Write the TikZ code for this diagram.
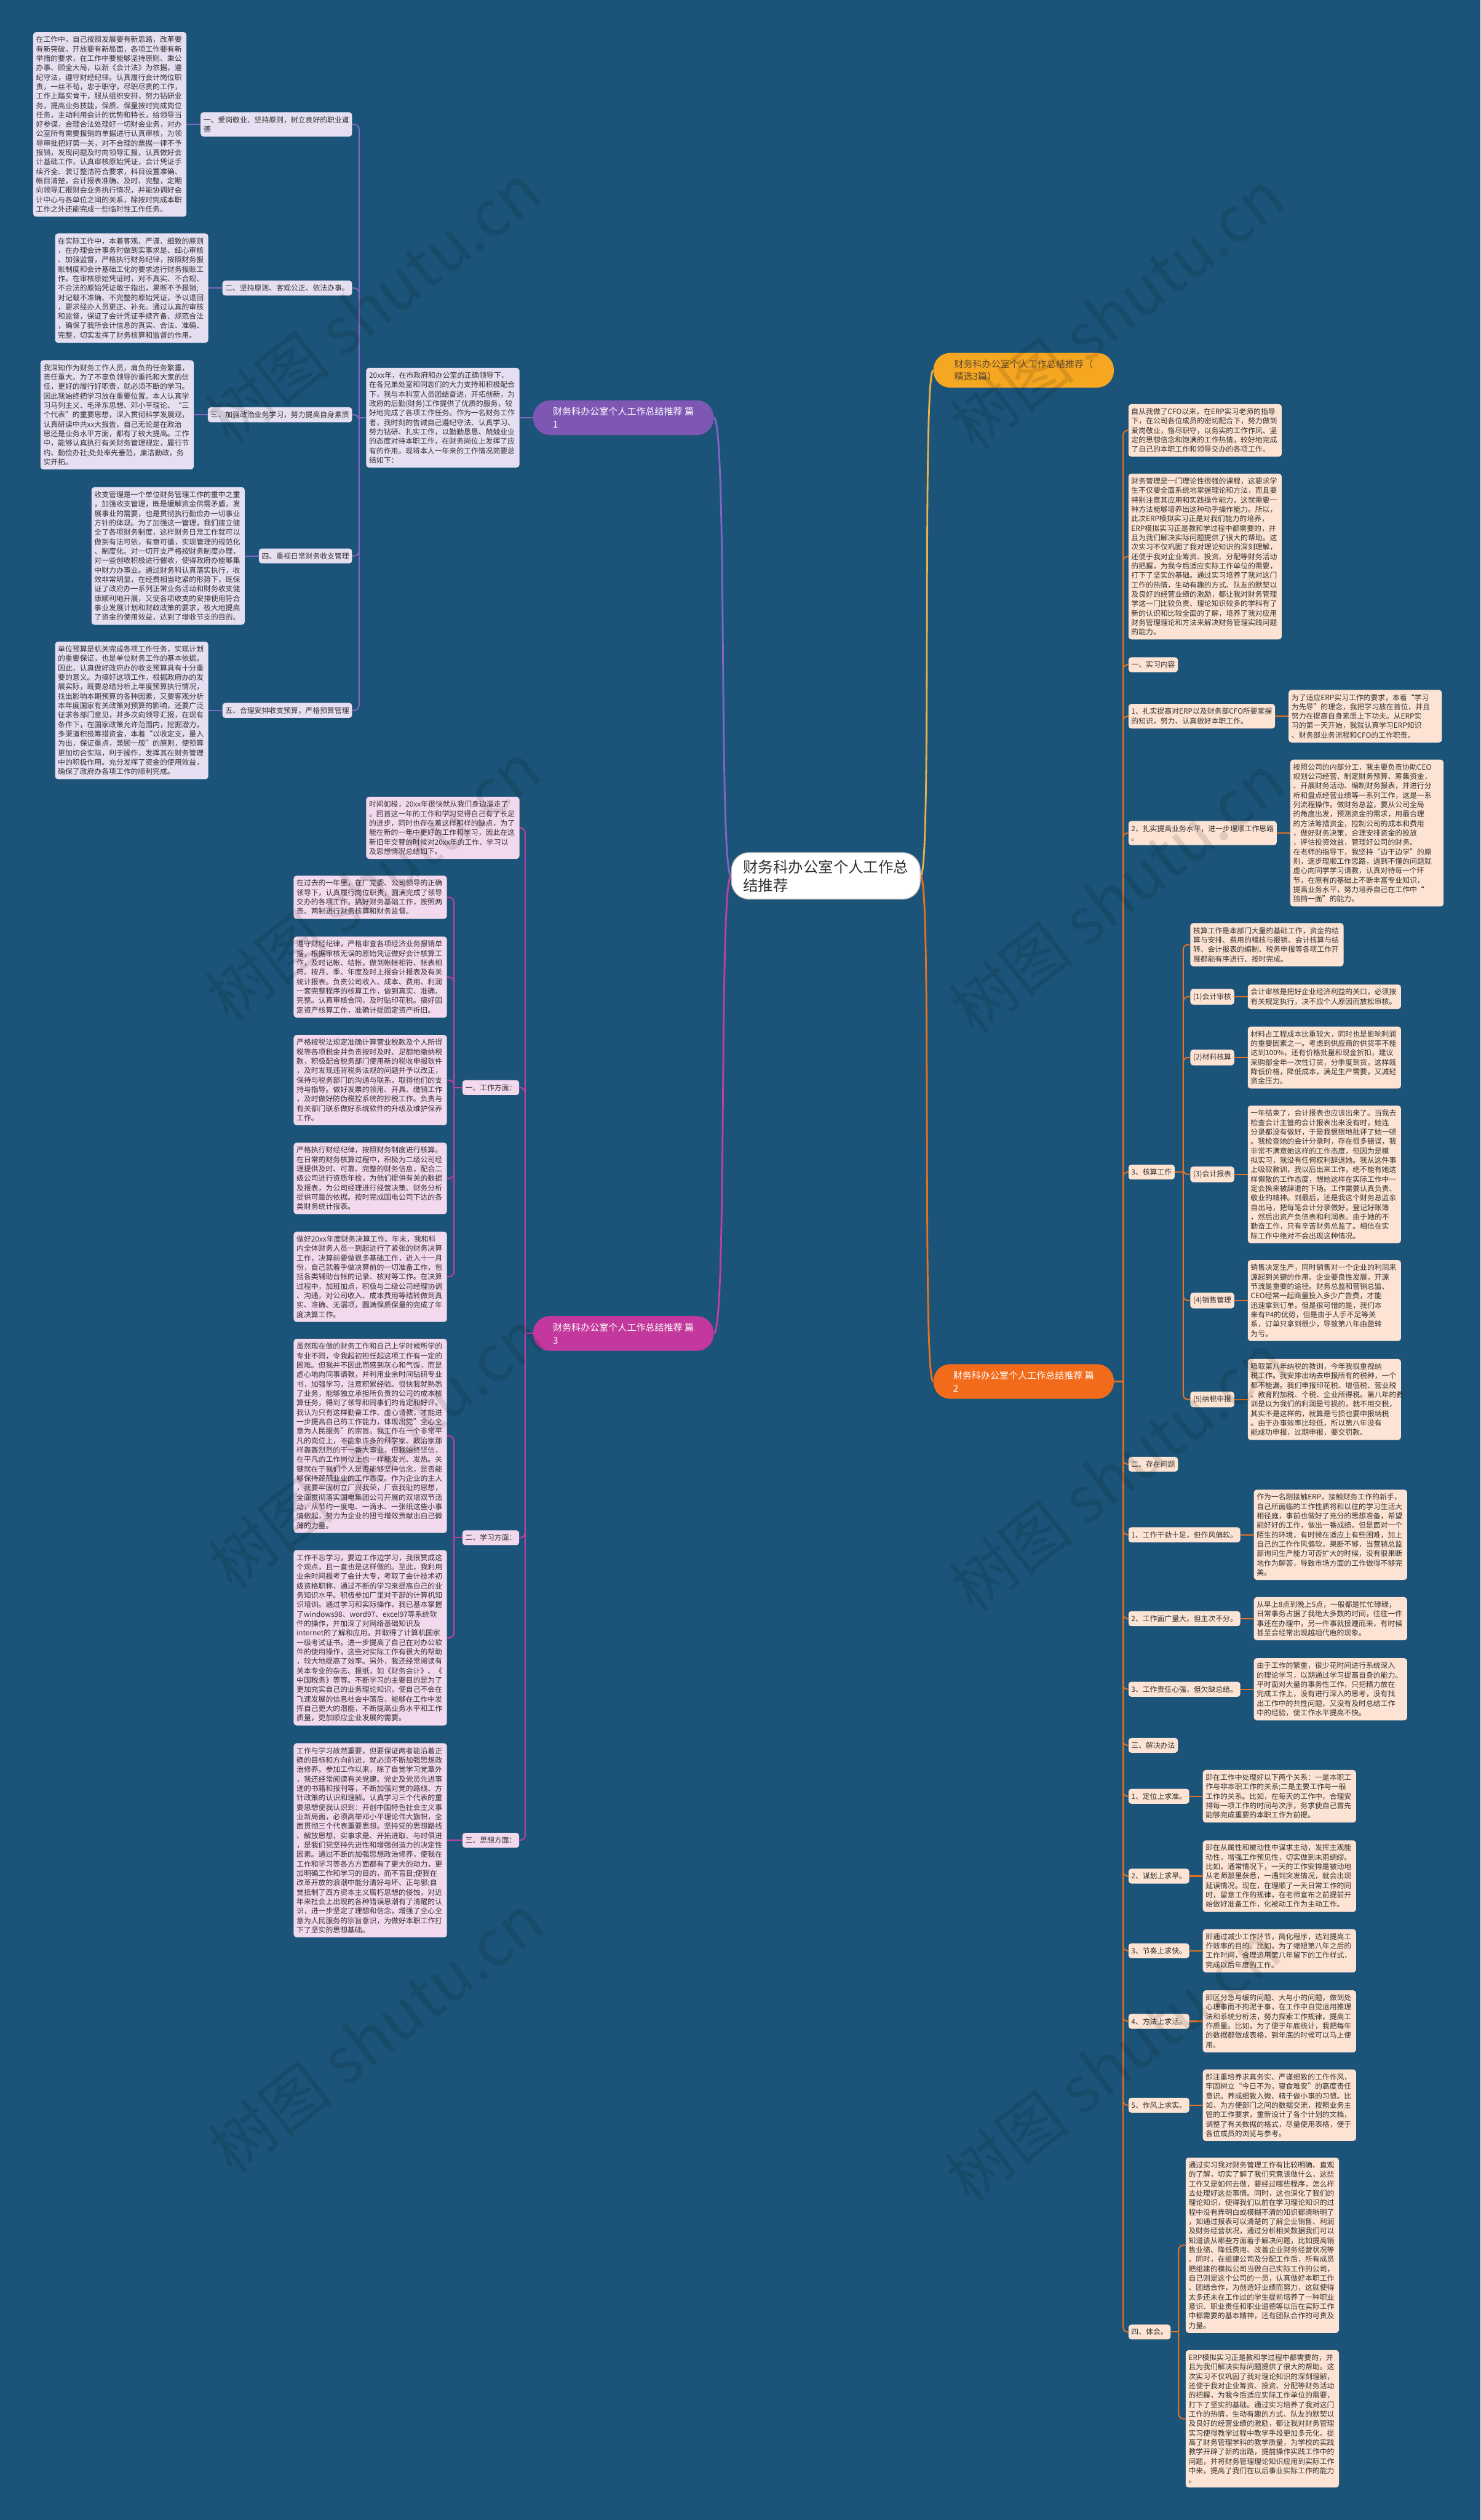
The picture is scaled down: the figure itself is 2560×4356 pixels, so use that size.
\documentclass[tikz,border=0pt]{standalone}
\usepackage{fontspec}
\setmainfont{Noto Sans CJK SC}
\usetikzlibrary{calc}
\pgfdeclarelayer{bglayer}
\pgfdeclarelayer{fglayer}
\pgfsetlayers{bglayer,main,fglayer}
\definecolor{bgc}{HTML}{1B5478}
\definecolor{txt}{HTML}{333333}
\definecolor{pfill}{HTML}{E5DFF1}
\definecolor{pline}{HTML}{8466C2}
\definecolor{pnode}{HTML}{7E57B5}
\definecolor{mfill}{HTML}{F3D9EE}
\definecolor{mline}{HTML}{C23EA3}
\definecolor{mnode}{HTML}{C2389C}
\definecolor{ofill}{HTML}{FDE3D3}
\definecolor{oline}{HTML}{E8701F}
\definecolor{onode}{HTML}{F26B1A}
\definecolor{gnode}{HTML}{F6A722}
\definecolor{gline}{HTML}{E9B04C}
\definecolor{gtext}{HTML}{5C4A32}
\definecolor{cborder}{HTML}{C8C8C8}
\newcommand{\myboxfont}{\fontsize{12.6}{16.3}\selectfont\hyphenpenalty=10000\exhyphenpenalty=10000}
\tikzset{
  base/.style={font=\myboxfont, text=txt, rounded corners=5pt, inner xsep=5pt, inner ysep=7pt, align=left},
  pbox/.style={base, fill=pfill, text width=255pt},
  plab/.style={base, fill=pfill},
  mbox/.style={base, fill=mfill, text width=255pt},
  mlab/.style={base, fill=mfill},
  obox/.style={base, fill=ofill, text width=255pt},
  olab/.style={base, fill=ofill},
  pill/.style={rounded corners=29pt, inner xsep=28pt, inner ysep=6pt, minimum width=312pt, minimum height=60pt, align=left, font=\fontsize{16}{22}\selectfont},
  pl/.style={draw=pline, line width=2.2pt, rounded corners=9pt},
  ml/.style={draw=mline, line width=2.2pt, rounded corners=9pt},
  ol/.style={draw=oline, line width=2.2pt, rounded corners=8pt},
  wmark/.style={rotate=38, opacity=0.11, text=black, font=\fontsize{110}{110}\selectfont}
}
\begin{document}
\begin{tikzpicture}[x=1pt,y=-1pt]
\useasboundingbox (0,0) rectangle (2560,4356);
\begin{pgfonlayer}{bglayer}
\fill[bgc] (0,0) rectangle (2560,4356);
\end{pgfonlayer}

% ---------- center and main branches ----------
\node[draw=cborder, line width=1.5pt, fill=white, rounded corners=30pt, inner xsep=20pt, inner ysep=12pt, align=left, text=txt, font=\fontsize{26}{32}\selectfont] (C) at (1428,1514) {财务科办公室个人工作总\\结推荐};
\node[pill, fill=gnode, text=gtext] (T) at (1770,640) {财务科办公室个人工作总结推荐（\\精选3篇）};
\node[pill, fill=pnode, text=white] (B1) at (1078,722) {财务科办公室个人工作总结推荐 篇\\1};
\node[pill, fill=mnode, text=white] (B3) at (1078,2305) {财务科办公室个人工作总结推荐 篇\\3};
\node[pill, fill=onode, text=white] (B2) at (1770,2388) {财务科办公室个人工作总结推荐 篇\\2};

% ---------- branch 1 ----------
\node[pbox, anchor=west] (I1) at (633,722) {20xx年，在市政府和办公室的正确领导下，\\在各兄弟处室和同志们的大力支持和积极配合\\下，我与本科室人员团结奋进，开拓创新，为\\政府的后勤(财务)工作提供了优质的服务，较\\好地完成了各项工作任务。作为一名财务工作\\者，我时刻的告诫自己遵纪守法、认真学习、\\努力钻研、扎实工作，以勤勤恳恳、兢兢业业\\的态度对待本职工作，在财务岗位上发挥了应\\有的作用。现将本人一年来的工作情况简要总\\结如下：};
\node[plab, anchor=east] (L1) at (609,215) {一、爱岗敬业、坚持原则，树立良好的职业道\\德};
\node[plab, anchor=east] (L2) at (609,498) {二、坚持原则、客观公正、依法办事。};
\node[plab, anchor=east] (L3) at (609,717) {三、加强政治业务学习，努力提高自身素质};
\node[plab, anchor=east] (L4) at (609,961) {四、重视日常财务收支管理};
\node[plab, anchor=east] (L5) at (609,1228) {五、合理安排收支预算，严格预算管理};
\node[pbox, anchor=east] (X1) at ($(L1.west)+(-24,0)$) {在工作中，自己按照发展要有新思路，改革要\\有新突破，开放要有新局面，各项工作要有新\\举措的要求，在工作中要能够坚持原则、秉公\\办事、顾全大局，以新《会计法》为依据，遵\\纪守法，遵守财经纪律。认真履行会计岗位职\\责，一丝不苟，忠于职守，尽职尽责的工作，\\工作上踏实肯干，服从组织安排，努力钻研业\\务，提高业务技能，保质、保量按时完成岗位\\任务，主动利用会计的优势和特长，给领导当\\好参谋，合理合法处理好一切财会业务，对办\\公室所有需要报销的单据进行认真审核，为领\\导审批把好第一关，对不合理的票据一律不予\\报销，发现问题及时向领导汇报，认真做好会\\计基础工作，认真审核原始凭证，会计凭证手\\续齐全、装订整洁符合要求，科目设置准确、\\帐目清楚，会计报表准确、及时、完整，定期\\向领导汇报财会业务执行情况，并能协调好会\\计中心与各单位之间的关系，除按时完成本职\\工作之外还能完成一些临时性工作任务。};
\node[pbox, anchor=east] (X2) at ($(L2.west)+(-24,0)$) {在实际工作中，本着客观、严谨、细致的原则\\，在办理会计事务时做到实事求是、细心审核\\、加强监督，严格执行财务纪律，按照财务报\\账制度和会计基础工化的要求进行财务报账工\\作。在审核原始凭证时，对不真实、不合规、\\不合法的原始凭证敢于指出，果断不予报销;\\对记载不准确、不完整的原始凭证，予以退回\\，要求经办人员更正、补充。通过认真的审核\\和监督，保证了会计凭证手续齐备、规范合法\\，确保了我所会计信息的真实、合法、准确、\\完整，切实发挥了财务核算和监督的作用。};
\node[pbox, anchor=east] (X3) at ($(L3.west)+(-24,0)$) {我深知作为财务工作人员，肩负的任务繁重，\\责任重大。为了不辜负领导的重托和大家的信\\任，更好的履行好职责，就必须不断的学习。\\因此我始终把学习放在重要位置。本人认真学\\习马列主义、毛泽东思想、邓小平理论、“三\\个代表”的重要思想，深入贯彻科学发展观，\\认真研读中共xx大报告，自己无论是在政治\\思还是业务水平方面，都有了较大提高。工作\\中，能够认真执行有关财务管理规定，履行节\\约、勤俭办社;处处率先垂范，廉洁勤政，务\\实开拓。};
\node[pbox, anchor=east] (X4) at ($(L4.west)+(-24,0)$) {收支管理是一个单位财务管理工作的重中之重\\，加强收支管理，既是缓解资金供需矛盾，发\\展事业的需要，也是贯彻执行勤俭办一切事业\\方针的体现。为了加强这一管理，我们建立健\\全了各项财务制度，这样财务日常工作就可以\\做到有法可依，有章可循，实现管理的规范化\\、制度化。对一切开支严格按财务制度办理，\\对一些创收积极进行催收，使得政府办能够集\\中财力办事业。通过财务科认真落实执行，收\\效非常明显，在经费相当吃紧的形势下，既保\\证了政府办一系列正常业务活动和财务收支健\\康顺利地开展，又使各项收支的安排使用符合\\事业发展计划和财政政策的要求，极大地提高\\了资金的使用效益，达到了增收节支的目的。};
\node[pbox, anchor=east] (X5) at ($(L5.west)+(-24,0)$) {单位预算是机关完成各项工作任务，实现计划\\的重要保证，也是单位财务工作的基本依据。\\因此，认真做好政府办的收支预算具有十分重\\要的意义。为搞好这项工作，根据政府办的发\\展实际，既要总结分析上年度预算执行情况，\\找出影响本期预算的各种因素，又要客观分析\\本年度国家有关政策对预算的影响，还要广泛\\征求各部门意见，并多次向领导汇报，在现有\\条件下，在国家政策允许范围内，挖掘潜力，\\多渠道积极筹措资金，本着“以收定支，量入\\为出，保证重点，兼顾一般”的原则，使预算\\更加切合实际，利于操作，发挥其在财务管理\\中的积极作用。充分发挥了资金的使用效益，\\确保了政府办各项工作的顺利完成。};

% ---------- branch 3 ----------
\node[mbox, anchor=west] (I3) at (633,1431) {时间如梭，20xx年很快就从我们身边溜走了\\。回首这一年的工作和学习觉得自己有了长足\\的进步，同时也存在着这样那样的缺点，为了\\能在新的一年中更好的工作和学习，因此在这\\新旧年交替的时候对20xx年的工作、学习以\\及思想情况总结如下。};
\node[mlab, anchor=east] (W1) at (898,1880) {一、工作方面：};
\node[mlab, anchor=east] (W2) at (898,2658) {二、学习方面：};
\node[mlab, anchor=east] (W3) at (898,3181) {三、思想方面：};
\node[mbox, anchor=east] (Y1) at (773,1551) {在过去的一年里，在厂党委、公司领导的正确\\领导下，认真履行岗位职责，圆满完成了领导\\交办的各项工作。搞好财务基础工作，按照两\\责、两制进行财务核算和财务监督。};
\node[mbox, anchor=east] (Y2) at (773,1689) {遵守财经纪律，严格审查各项经济业务报销单\\据，根据审核无误的原始凭证做好会计核算工\\作，及时记帐、结帐，做到帐帐相符、帐表相\\符。按月、季、年度及时上报会计报表及有关\\统计报表。负责公司收入、成本、费用、利润\\一套完整程序的核算工作，做到真实、准确、\\完整。认真审核合同，及时贴印花税。搞好固\\定资产核算工作，准确计提固定资产折旧。};
\node[mbox, anchor=east] (Y3) at (773,1867) {严格按税法规定准确计算营业税款及个人所得\\税等各项税金并负责按时及时、足额地缴纳税\\款，积极配合税务部门使用新的税收申报软件\\，及时发现违背税务法规的问题并予以改正，\\保持与税务部门的沟通与联系，取得他们的支\\持与指导。做好发票的领用、开具、缴销工作\\，及时做好防伪税控系统的抄税工作。负责与\\有关部门联系做好系统软件的升级及维护保养\\工作。};
\node[mbox, anchor=east] (Y4) at (773,2037) {严格执行财经纪律，按照财务制度进行核算。\\在日常的财务核算过程中，积极为二级公司经\\理提供及时、可靠、完整的财务信息，配合二\\级公司进行资质年检，为他们提供有关的数据\\及报表，为公司经理进行经营决策、财务分析\\提供可靠的依据。按时完成国电公司下达的各\\类财务统计报表。};
\node[mbox, anchor=east] (Y5) at (773,2207) {做好20xx年度财务决算工作。年末，我和科\\内全体财务人员一到起进行了紧张的财务决算\\工作，决算前要做很多基础工作，进入十一月\\份，自己就着手做决算前的一切准备工作，包\\括各类辅助台帐的记录、核对等工作。在决算\\过程中，加班加点，积极与二级公司经理协调\\、沟通，对公司收入、成本费用等结转做到真\\实、准确、无漏项，圆满保质保量的完成了年\\度决算工作。};
\node[mbox, anchor=east] (Y6) at (773,2482) {虽然现在做的财务工作和自己上学时候所学的\\专业不同，令我起初担任起这项工作有一定的\\困难。但我并不因此而感到灰心和气馁，而是\\虚心地向同事请教，并利用业余时间钻研专业\\书，加强学习，注意积累经验。很快我就熟悉\\了业务，能够独立承担所负责的公司的成本核\\算任务，得到了领导和同事们的肯定和好评。\\我认为只有这样勤奋工作、虚心请教，才能进\\一步提高自己的工作能力，体现出党"全心全\\意为人民服务"的宗旨。我工作在一个非常平\\凡的岗位上，不能象许多的科学家、政治家那\\样轰轰烈烈的干一番大事业，但我始终坚信，\\在平凡的工作岗位上也一样能发光、发热。关\\键就在于我们个人是否能够坚持信念，是否能\\够保持兢兢业业的工作态度。作为企业的主人\\，我要牢固树立厂兴我荣，厂衰我耻的思想，\\全面贯彻落实国电集团公司开展的双增双节活\\动，从节约一度电、一滴水、一张纸这些小事\\情做起，努力为企业的扭亏增效贡献出自己微\\薄的力量。};
\node[mbox, anchor=east] (Y7) at (773,2831) {工作不忘学习，要边工作边学习，我很赞成这\\个观点，且一直也是这样做的。至此，我利用\\业余时间报考了会计大专，考取了会计技术初\\级资格职称，通过不断的学习来提高自己的业\\务知识水平。积极参加厂里对干部的计算机知\\识培训。通过学习和实际操作，我已基本掌握\\了windows98、word97、excel97等系统软\\件的操作，并加深了对网络基础知识及\\internet的了解和应用，并取得了计算机国家\\一级考试证书。进一步提高了自己在对办公软\\件的使用操作，这些对实际工作有很大的帮助\\，较大地提高了效率。另外，我还经常阅读有\\关本专业的杂志、报纸，如《财务会计》、《\\中国税务》等等。不断学习的主要目的是为了\\更加充实自己的业务理论知识，使自己不会在\\飞速发展的信息社会中落后，能够在工作中发\\挥自己更大的潜能，不断提高业务水平和工作\\质量，更加顺应企业发展的需要。};
\node[mbox, anchor=east] (Y8) at (773,3181) {工作与学习故然重要，但要保证两者能沿着正\\确的目标和方向前进，就必须不断加强思想政\\治修养。参加工作以来，除了自觉学习党章外\\，我还经常阅读有关党建、党史及党员先进事\\迹的书籍和报刊等，不断加强对党的路线、方\\针政策的认识和理解。认真学习三个代表的重\\要思想使我认识到：开创中国特色社会主义事\\业新局面，必须高举邓小平理论伟大旗帜，全\\面贯彻三个代表重要思想。坚持党的思想路线\\、解放思想，实事求是、开拓进取、与时俱进\\，是我们党坚持先进性和增强创造力的决定性\\因素。通过不断的加强思想政治修养，使我在\\工作和学习等各方方面都有了更大的动力，更\\加明确工作和学习的目的，而不盲目;使我在\\改革开放的浪潮中能分清好与坏、正与邪;自\\觉抵制了西方资本主义腐朽思想的侵蚀，对近\\年来社会上出现的各种错误思潮有了清醒的认\\识，进一步坚定了理想和信念，增强了全心全\\意为人民服务的宗旨意识，为做好本职工作打\\下了坚实的思想基础。};

% ---------- branch 2 ----------
\node[obox, anchor=west] (A) at (1951,744) {自从我做了CFO以来，在ERP实习老师的指导\\下，在公司各位成员的密切配合下，努力做到\\爱岗敬业，恪尽职守，以务实的工作作风、坚\\定的思想信念和饱满的工作热情，较好地完成\\了自己的本职工作和领导交办的各项工作。};
\node[obox, anchor=west] (B) at (1951,962) {财务管理是一门理论性很强的课程，这要求学\\生不仅要全面系统地掌握理论和方法，而且要\\特别注意其应用和实践操作能力，这就需要一\\种方法能够培养出这种动手操作能力。所以，\\此次ERP模拟实习正是对我们能力的培养，\\ERP模拟实习正是教和学过程中都需要的，并\\且为我们解决实际问题提供了很大的帮助。这\\次实习不仅巩固了我对理论知识的深刻理解，\\还便于我对企业筹资、投资、分配等财务活动\\的把握，为我今后适应实际工作单位的需要，\\打下了坚实的基础。通过实习培养了我对这门\\工作的热情，生动有趣的方式、队友的默契以\\及良好的经营业绩的激励，都让我对财务管理\\学这一门比较负责、理论知识较多的学科有了\\新的认识和比较全面的了解，培养了我对应用\\财务管理理论和方法来解决财务管理实践问题\\的能力。};
\node[olab, anchor=west] (S0) at (1951,1149) {一、实习内容};
\node[olab, anchor=west] (P1) at (1951,1238) {1、扎实提高对ERP以及财务部CFO所要掌握\\的知识，努力、认真做好本职工作。};
\node[obox, anchor=west] (PC1) at ($(P1.east)+(23,0)$) {为了适应ERP实习工作的要求，本着“学习\\为先导”的理念，我把学习放在首位，并且\\努力在提高自身素质上下功夫。从ERP实\\习的第一天开始，我就认真学习ERP知识\\、财务部业务流程和CFO的工作职责。};
\node[olab, anchor=west] (P2) at (1951,1440) {2、扎实提高业务水平，进一步理顺工作思路\\。};
\node[obox, anchor=west] (PC2) at ($(P2.east)+(23,0)$) {按照公司的内部分工，我主要负责协助CEO\\规划公司经营、制定财务预算、筹集资金，\\、开展财务活动、编制财务报表，并进行分\\析和盘点经营业绩等一系列工作，这是一系\\列流程操作。做财务总监，要从公司全局\\的角度出发，预测资金的需求，用最合理\\的方法筹措资金，控制公司的成本和费用\\，做好财务决策，合理安排资金的投放\\，评估投资效益，管理好公司的财务。\\在老师的指导下，我坚持“边干边学”的原\\则，逐步理顺工作思路，遇到不懂的问题就\\虚心向同学学习请教，认真对待每一个环\\节，在原有的基础上不断丰富专业知识，\\提高业务水平，努力培养自己在工作中“\\独挡一面”的能力。};
\node[olab, anchor=west] (K3) at (1951,2026) {3、核算工作};
\node[obox, anchor=west] (E) at (2058,1633) {核算工作是本部门大量的基础工作，资金的结\\算与安排、费用的稽核与报销、会计核算与结\\转、会计报表的编制、税务申报等各项工作开\\展都能有序进行、按时完成。};
\node[olab, anchor=west] (S1) at (2058,1723) {(1)会计审核};
\node[olab, anchor=west] (S2) at (2058,1828) {(2)材料核算};
\node[olab, anchor=west] (S3) at (2058,2030) {(3)会计报表};
\node[olab, anchor=west] (S4) at (2058,2248) {(4)销售管理};
\node[olab, anchor=west] (S5) at (2058,2419) {(5)纳税申报};
\node[obox, anchor=west] (V1) at ($(S1.east)+(23,0)$) {会计审核是把好企业经济利益的关口，必须按\\有关规定执行，决不应个人原因而放松审核。};
\node[obox, anchor=west] (V2) at ($(S2.east)+(23,0)$) {材料占工程成本比重较大，同时也是影响利润\\的重要因素之一。考虑到供应商的供货率不能\\达到100\%，还有价格批量和现金折扣，建议\\采购部全年一次性订货，分季度到货，这样既\\降低价格，降低成本，满足生产需要，又减轻\\资金压力。};
\node[obox, anchor=west] (V3) at ($(S3.east)+(23,0)$) {一年结束了，会计报表也应该出来了。当我去\\检查会计主管的会计报表出来没有时，她连\\分录都没有做好，于是我狠狠地批评了她一顿\\。我检查她的会计分录时，存在很多错误，我\\非常不满意她这样的工作态度，但因为是模\\拟实习，我没有任何权利辞退她。我从这件事\\上吸取教训，我以后出来工作，绝不能有她这\\样懒散的工作态度，想她这样在实际工作中一\\定会换来被辞退的下场。工作需要认真负责、\\敬业的精神。到最后，还是我这个财务总监亲\\自出马，把每笔会计分录做好，登记好账簿\\，然后出资产负债表和利润表。由于她的不\\勤奋工作，只有辛苦财务总监了。相信在实\\际工作中绝对不会出现这种情况。};
\node[obox, anchor=west] (V4) at ($(S4.east)+(23,0)$) {销售决定生产，同时销售对一个企业的利润来\\源起到关键的作用。企业要良性发展，开源\\节流是重要的途径。财务总监和营销总监、\\CEO经常一起商量投入多少广告费，才能\\迅速拿到订单。但是很可惜的是，我们本\\来有P4的优势，但是由于人手不足等关\\系，订单只拿到很少，导致第八年由盈转\\为亏。};
\node[obox, anchor=west] (V5) at ($(S5.east)+(23,0)$) {吸取第八年纳税的教训，今年我很重视纳\\税工作。我安排出纳去申报所有的税种，一个\\都不能漏。我们申报印花税、增值税、营业税\\、教育附加税、个税、企业所得税。第八年的教\\训是以为我们的利润是亏损的，就不用交税，\\其实不是这样的，就算是亏损也要申报纳税\\。由于办事效率比较低，所以第八年没有\\能成功申报，过期申报，要交罚款。};
\node[olab, anchor=west] (Q) at (1951,2531) {二、存在问题};
\node[olab, anchor=west] (Q1) at (1951,2653) {1、工作干劲十足，但作风偏软。};
\node[olab, anchor=west] (Q2) at (1951,2798) {2、工作面广量大，但主次不分。};
\node[olab, anchor=west] (Q3) at (1951,2920) {3、工作责任心强，但欠缺总结。};
\node[obox, anchor=west] (F) at ($(Q1.east)+(23,0)$) {作为一名刚接触ERP，接触财务工作的新手，\\自己所面临的工作性质将和以往的学习生活大\\相径庭，事前也做好了充分的思想准备，希望\\能好好的工作，做出一番成绩。但是面对一个\\陌生的环境，有时候在适应上有些困难，加上\\自己的工作作风偏软，果断不够，当营销总监\\部询问生产能力可否扩大的时候，没有很果断\\地作为解答，导致市场方面的工作做得不够完\\美。};
\node[obox, anchor=west] (G) at ($(Q2.east)+(23,0)$) {从早上8点到晚上5点，一般都是忙忙碌碌，\\日常事务占据了我绝大多数的时间，往往一件\\事还在办理中，另一件事就接踵而来，有时候\\甚至会经常出现越俎代庖的现象。};
\node[obox, anchor=west] (H) at ($(Q3.east)+(23,0)$) {由于工作的繁重，很少花时间进行系统深入\\的理论学习，以期通过学习提高自身的能力。\\平时面对大量的事务性工作，只把精力放在\\完成工作上，没有进行深入的思考，没有找\\出工作中的共性问题，又没有及时总结工作\\中的经验，使工作水平提高不快。};
\node[olab, anchor=west] (R) at (1951,3017) {三、解决办法};
\node[olab, anchor=west] (R1) at (1951,3105) {1、定位上求准。};
\node[olab, anchor=west] (R2) at (1951,3243) {2、谋划上求早。};
\node[olab, anchor=west] (R3) at (1951,3372) {3、节奏上求快。};
\node[olab, anchor=west] (R4) at (1951,3494) {4、方法上求活。};
\node[olab, anchor=west] (R5) at (1951,3639) {5、作风上求实。};
\node[obox, anchor=west] (Z1) at ($(R1.east)+(23,0)$) {即在工作中处理好以下两个关系：一是本职工\\作与非本职工作的关系;二是主要工作与一般\\工作的关系。比如，在每天的工作中，合理安\\排每一项工作的时间与次序，务求使自己首先\\能够完成重要的本职工作为前提。};
\node[obox, anchor=west] (Z2) at ($(R2.east)+(23,0)$) {即在从属性和被动性中谋求主动，发挥主观能\\动性，增强工作预见性，切实做到未雨绸缪。\\比如，通常情况下，一天的工作安排是被动地\\从老师那里获悉，一遇到突发情况，就会出现\\延误情况。现在，在理顺了一天日常工作的同\\时，留意工作的规律，在老师宣布之前提前开\\始做好准备工作，化被动工作为主动工作。};
\node[obox, anchor=west] (Z3) at ($(R3.east)+(23,0)$) {即通过减少工作环节，简化程序，达到提高工\\作效率的目的。比如，为了缩短第八年之后的\\工作时间，合理运用第八年留下的工作样式，\\完成以后年度的工作。};
\node[obox, anchor=west] (Z4) at ($(R4.east)+(23,0)$) {即区分急与缓的问题、大与小的问题，做到处\\心理事而不拘泥于事，在工作中自觉运用推理\\法和系统分析法，努力探索工作规律，提高工\\作质量。比如，为了便于年底统计，我把每年\\的数据都做成表格，到年底的时候可以马上使\\用。};
\node[obox, anchor=west] (Z5) at ($(R5.east)+(23,0)$) {即注重培养求真务实、严谨细致的工作作风，\\牢固树立“今日不为，寝食难安”的高度责任\\意识。养成细致入微、精于做小事的习惯。比\\如，为方便部门之间的数据交流，按照业务主\\管的工作要求，重新设计了各个计划的文档，\\调整了有关数据的格式，尽量使用表格，便于\\各位成员的浏览与参考。};
\node[olab, anchor=west] (T4) at (1951,4031) {四、体会。};
\node[obox, anchor=west] (N) at (2050,3881) {通过实习我对财务管理工作有比较明确、直观\\的了解，切实了解了我们究竟该做什么，这些\\工作又是如何去做，要经过哪些程序，怎么样\\去处理好这些事情。同时，这也深化了我们的\\理论知识，使得我们以前在学习理论知识的过\\程中没有弄明白或模糊不清的知识都清晰明了\\，如通过报表可以清楚的了解企业销售、利润\\及财务经营状况，通过分析相关数据我们可以\\知道该从哪些方面着手解决问题，比如提高销\\售业绩、降低费用、改善企业财务经营状况等\\。同时，在组建公司及分配工作后，所有成员\\把组建的模拟公司当做自己实际工作的公司，\\自己则是这个公司的一员，认真做好本职工作\\、团结合作，为创造好业绩而努力，这就使得\\太多还未在工作过的学生提前培养了一种职业\\意识、职业责任和职业道德等以后在实际工作\\中都需要的基本精神，还有团队合作的可贵及\\力量。};
\node[obox, anchor=west] (O) at (2050,4181) {ERP模拟实习正是教和学过程中都需要的，并\\且为我们解决实际问题提供了很大的帮助。这\\次实习不仅巩固了我对理论知识的深刻理解，\\还便于我对企业筹资、投资、分配等财务活动\\的把握，为我今后适应实际工作单位的需要，\\打下了坚实的基础。通过实习培养了我对这门\\工作的热情，生动有趣的方式、队友的默契以\\及良好的经营业绩的激励，都让我对财务管理\\实习使得教学过程中教学手段更加多元化。提\\高了财务管理学科的教学质量，为学校的实践\\教学开辟了新的出路，提前操作实践工作中的\\问题，并将财务管理理论知识应用到实际工作\\中来，提高了我们在以后事业实际工作的能力\\。};

% ---------- connectors ----------
\begin{pgfonlayer}{bglayer}
\draw[line width=3pt, draw=pline] (C.west) .. controls +(-22,0) and +(24,0) .. (B1.east);
\draw[line width=3pt, draw=mline] (C.west) .. controls +(-22,0) and +(24,0) .. (B3.east);
\draw[line width=3pt, draw=gline] (C.east) .. controls +(20,0) and +(-20,0) .. (T.west);
\draw[line width=3pt, draw=oline] (C.east) .. controls +(20,0) and +(-20,0) .. (B2.west);
% branch 1
\draw[pl] (B1.west) -- (I1.east);
\draw[pl] (I1.west) -- (621,722);
\foreach \n in {L1,L2,L3,L4,L5} \draw[pl] (621,722) |- (\n.east);
\foreach \n in {1,2,3,4,5} \draw[pl] (L\n.west) -- (X\n.east);
% branch 3
\draw[ml] (B3.west) -- (908,2305);
\foreach \n in {I3,W1,W2,W3} \draw[ml] (908,2305) |- (\n.east);
\draw[ml] (W1.west) -- (785,1880);
\foreach \n in {Y1,Y2,Y3,Y4,Y5} \draw[ml] (785,1880) |- (\n.east);
\draw[ml] (W2.west) -- (785,2658);
\foreach \n in {Y6,Y7} \draw[ml] (785,2658) |- (\n.east);
\draw[ml] (W3.west) -- (Y8.east);
% branch 2
\draw[ol] (B2.east) -- (1942,2388);
\foreach \n in {A,B,S0,P1,P2,K3,Q,Q1,Q2,Q3,R,R1,R2,R3,R4,R5,T4} \draw[ol] (1942,2388) |- (\n.west);
\draw[ol] (P1.east) -- (PC1.west);
\draw[ol] (P2.east) -- (PC2.west);
\draw[ol] (K3.east) -- (2046,2026);
\foreach \n in {E,S1,S2,S3,S4,S5} \draw[ol] (2046,2026) |- (\n.west);
\foreach \n in {1,2,3,4,5} \draw[ol] (S\n.east) -- (V\n.west);
\draw[ol] (Q1.east) -- (F.west);
\draw[ol] (Q2.east) -- (G.west);
\draw[ol] (Q3.east) -- (H.west);
\foreach \n in {1,2,3,4,5} \draw[ol] (R\n.east) -- (Z\n.west);
\draw[ol] (T4.east) -- (2038,4031);
\foreach \n in {N,O} \draw[ol] (2038,4031) |- (\n.west);
\end{pgfonlayer}

% ---------- watermarks ----------
\begin{pgfonlayer}{fglayer}
\foreach \x/\y in {645/525, 645/1525, 650/2505, 650/3515, 1932/535, 1931/1545, 1931/2545, 1924/3565}
  \node[wmark] at (\x,\y) {树图 shutu.cn};
\end{pgfonlayer}
\end{tikzpicture}
\end{document}
